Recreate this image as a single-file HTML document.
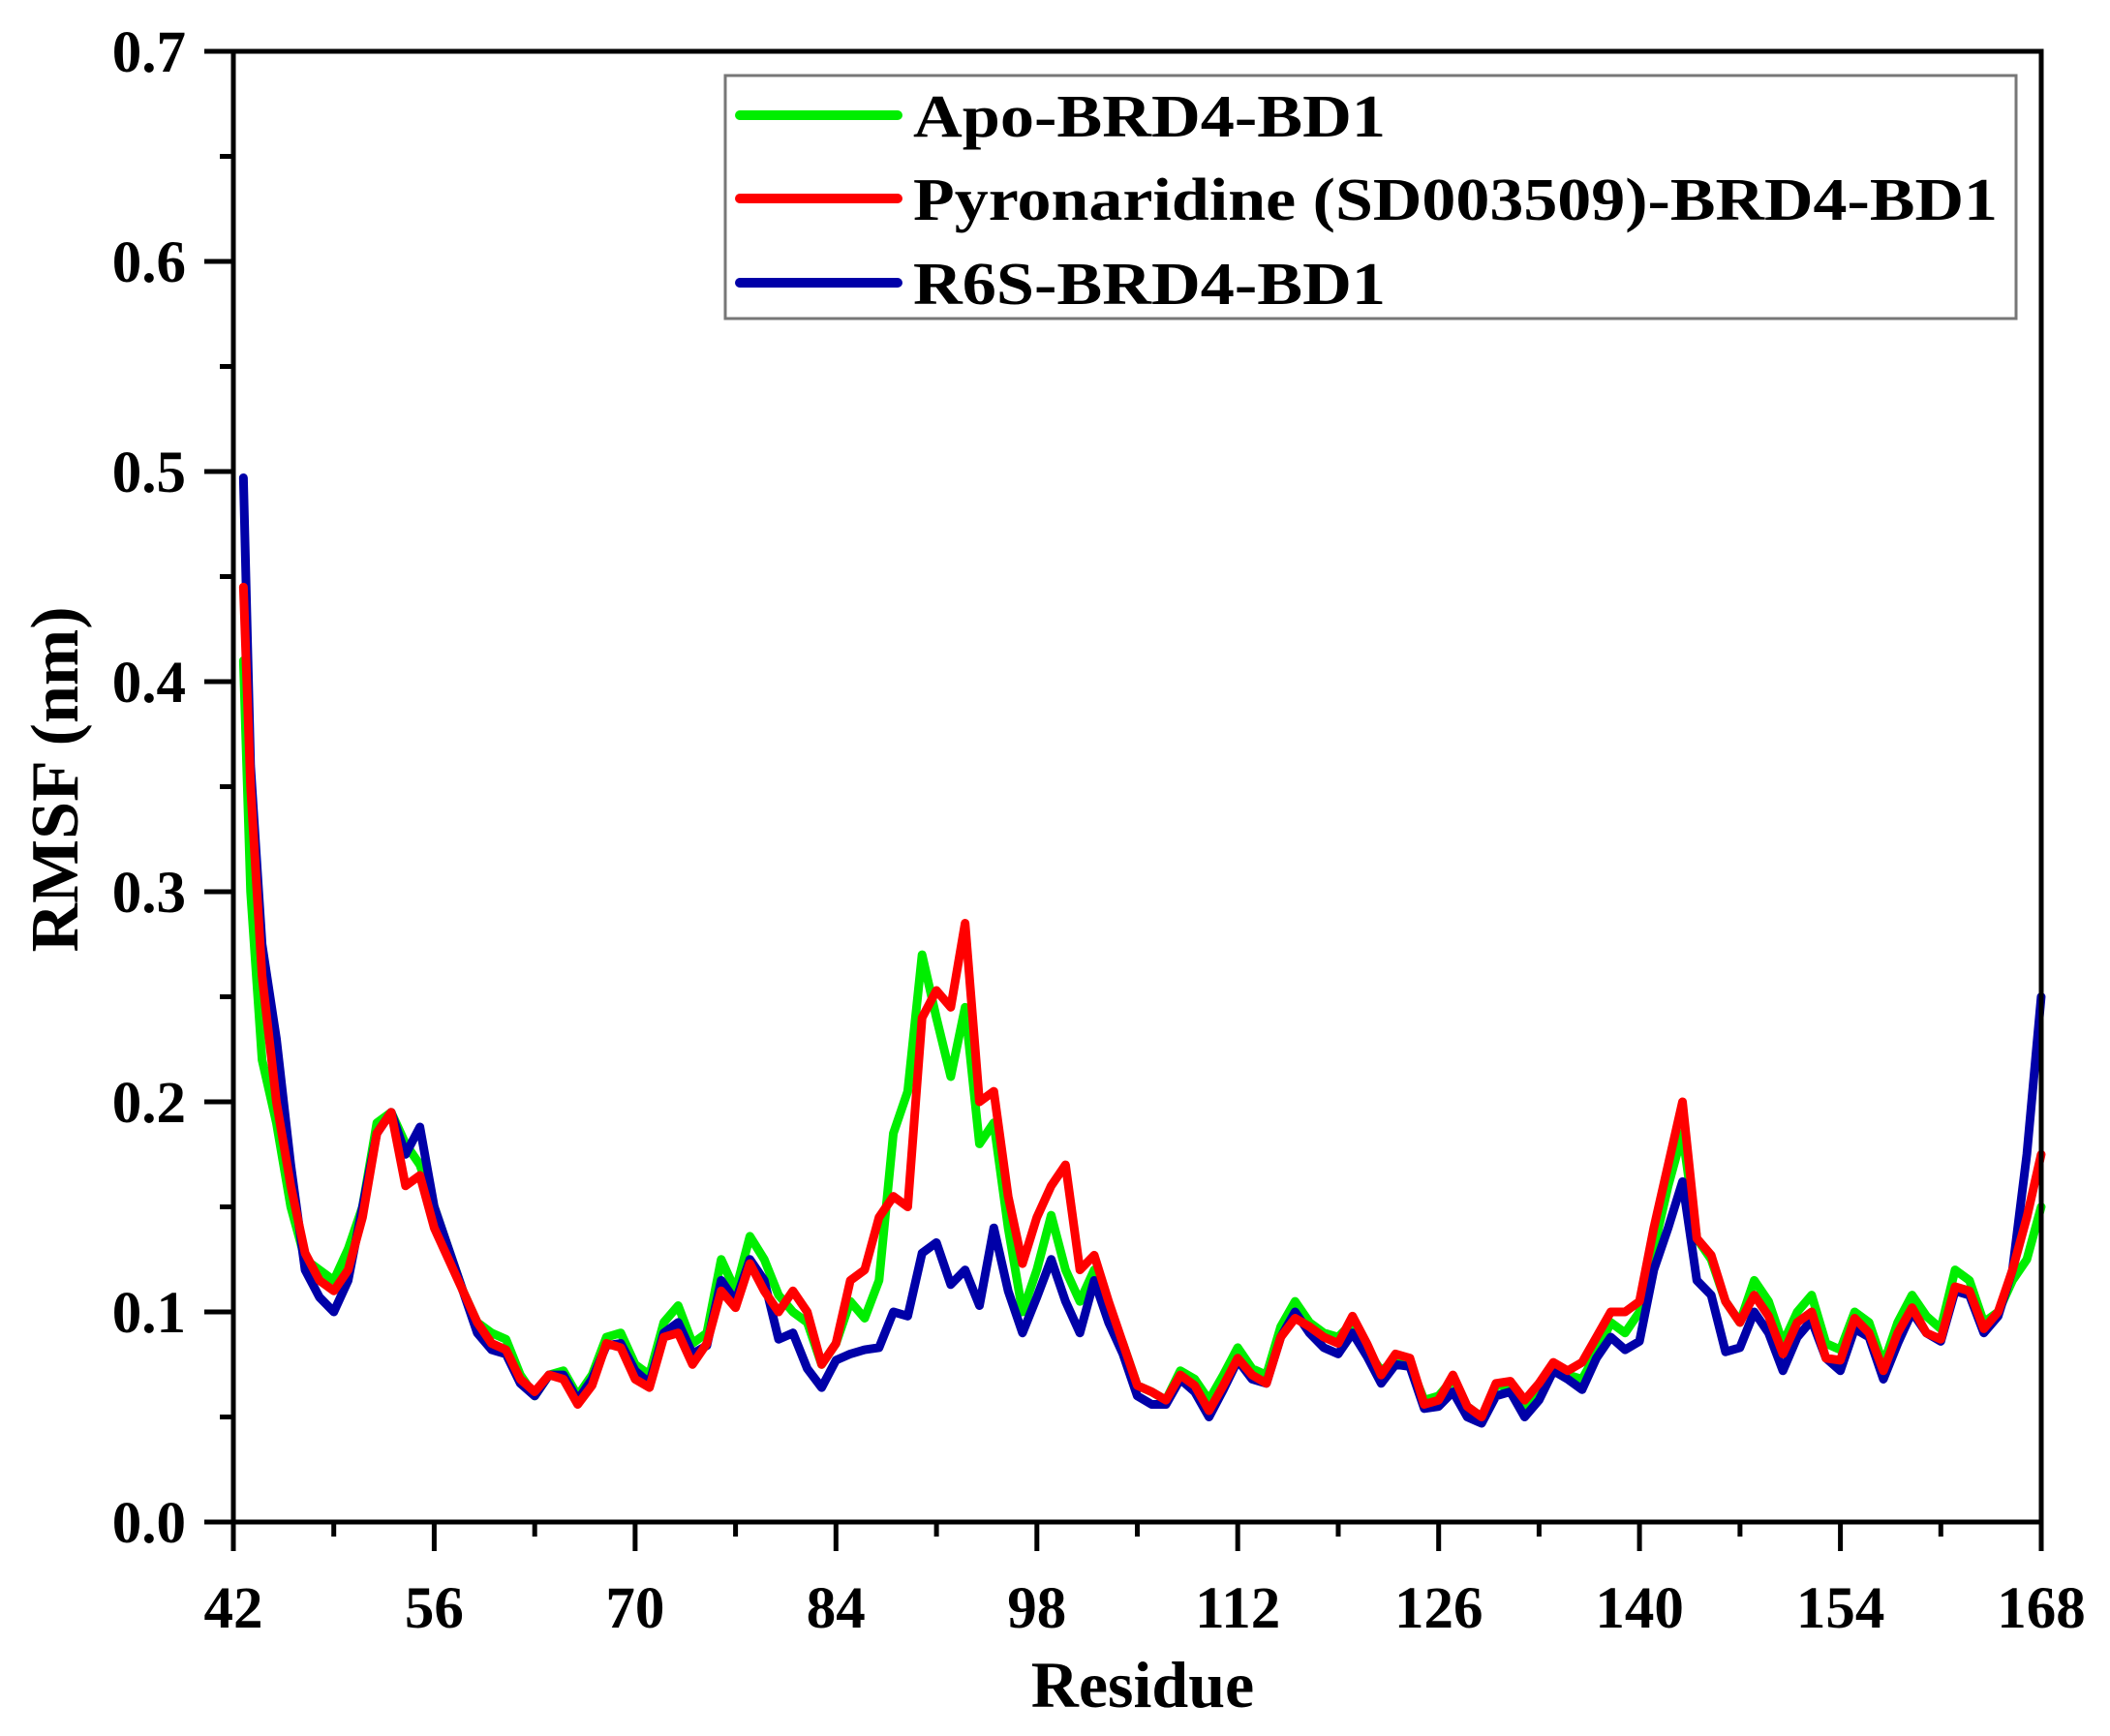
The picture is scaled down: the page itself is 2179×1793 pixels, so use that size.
<!DOCTYPE html>
<html><head><meta charset="utf-8"><style>
html,body{margin:0;padding:0;background:#fff}
svg{display:block}
text{font-family:"Liberation Serif",serif;font-weight:bold;fill:#000}
</style></head><body>
<svg width="2179" height="1793" viewBox="0 0 2179 1793" xmlns="http://www.w3.org/2000/svg">
<rect width="2179" height="1793" fill="#fff"/>
<g transform="translate(241,1572) scale(14.817,-2170)" fill="none" stroke-linejoin="round" stroke-linecap="round">
<polyline vector-effect="non-scaling-stroke" stroke="#00ee00" stroke-width="9" points="0.7,0.41 1.2,0.30 2,0.22 3,0.19 4,0.15 5,0.125 6,0.12 7,0.115 8,0.13 9,0.15 10,0.19 11,0.195 12,0.18 13,0.17 14,0.15 15,0.13 16,0.11 17,0.095 18,0.09 19,0.087 20,0.07 21,0.06 22,0.07 23,0.072 24,0.06 25,0.07 26,0.088 27,0.09 28,0.075 29,0.07 30,0.095 31,0.103 32,0.085 33,0.09 34,0.125 35,0.11 36,0.136 37,0.125 38,0.108 39,0.1 40,0.095 41,0.075 42,0.085 43,0.105 44,0.097 45,0.115 46,0.185 47,0.205 48,0.27 49,0.24 50,0.212 51,0.245 52,0.18 53,0.19 54,0.14 55,0.1 56,0.12 57,0.146 58,0.12 59,0.105 60,0.12 61,0.1 62,0.085 63,0.065 64,0.062 65,0.058 66,0.072 67,0.068 68,0.058 69,0.07 70,0.083 71,0.073 72,0.07 73,0.093 74,0.105 75,0.095 76,0.09 77,0.088 78,0.095 79,0.082 80,0.072 81,0.077 82,0.075 83,0.058 84,0.06 85,0.068 86,0.055 87,0.05 88,0.065 89,0.065 90,0.055 91,0.065 92,0.073 93,0.07 94,0.068 95,0.08 96,0.095 97,0.09 98,0.1 99,0.13 100,0.16 101,0.185 102,0.135 103,0.125 104,0.105 105,0.095 106,0.115 107,0.105 108,0.085 109,0.1 110,0.108 111,0.085 112,0.082 113,0.1 114,0.095 115,0.075 116,0.095 117,0.108 118,0.098 119,0.092 120,0.12 121,0.115 122,0.095 123,0.1 124,0.115 125,0.125 126,0.15"/>
<polyline vector-effect="non-scaling-stroke" stroke="#0000a8" stroke-width="9" points="0.7,0.497 1.2,0.36 2,0.275 3,0.23 4,0.17 5,0.12 6,0.107 7,0.1 8,0.115 9,0.15 10,0.185 11,0.195 12,0.175 13,0.188 14,0.15 15,0.13 16,0.11 17,0.09 18,0.082 19,0.08 20,0.066 21,0.06 22,0.07 23,0.07 24,0.058 25,0.068 26,0.084 27,0.085 28,0.072 29,0.066 30,0.09 31,0.095 32,0.08 33,0.084 34,0.115 35,0.105 36,0.125 37,0.115 38,0.087 39,0.09 40,0.073 41,0.064 42,0.077 43,0.08 44,0.082 45,0.083 46,0.1 47,0.098 48,0.128 49,0.133 50,0.113 51,0.12 52,0.103 53,0.14 54,0.11 55,0.09 56,0.107 57,0.125 58,0.105 59,0.09 60,0.115 61,0.095 62,0.08 63,0.06 64,0.056 65,0.056 66,0.068 67,0.062 68,0.05 69,0.063 70,0.077 71,0.068 72,0.066 73,0.088 74,0.1 75,0.09 76,0.083 77,0.08 78,0.09 79,0.079 80,0.066 81,0.075 82,0.074 83,0.054 84,0.055 85,0.062 86,0.05 87,0.047 88,0.06 89,0.062 90,0.05 91,0.058 92,0.072 93,0.068 94,0.063 95,0.078 96,0.088 97,0.082 98,0.086 99,0.12 100,0.14 101,0.162 102,0.115 103,0.108 104,0.081 105,0.083 106,0.1 107,0.09 108,0.072 109,0.088 110,0.096 111,0.078 112,0.072 113,0.092 114,0.088 115,0.068 116,0.085 117,0.1 118,0.09 119,0.086 120,0.11 121,0.108 122,0.09 123,0.098 124,0.12 125,0.175 126,0.25"/>
<polyline vector-effect="non-scaling-stroke" stroke="#ff0000" stroke-width="9" points="0.7,0.445 1.2,0.35 2,0.26 3,0.2 4,0.16 5,0.128 6,0.115 7,0.11 8,0.12 9,0.145 10,0.185 11,0.195 12,0.16 13,0.165 14,0.14 15,0.125 16,0.11 17,0.095 18,0.085 19,0.082 20,0.068 21,0.062 22,0.07 23,0.068 24,0.056 25,0.065 26,0.085 27,0.083 28,0.068 29,0.064 30,0.088 31,0.09 32,0.075 33,0.085 34,0.11 35,0.102 36,0.123 37,0.11 38,0.1 39,0.11 40,0.1 41,0.075 42,0.085 43,0.115 44,0.12 45,0.145 46,0.155 47,0.15 48,0.24 49,0.253 50,0.245 51,0.285 52,0.2 53,0.205 54,0.155 55,0.123 56,0.145 57,0.16 58,0.17 59,0.12 60,0.127 61,0.105 62,0.085 63,0.065 64,0.062 65,0.058 66,0.07 67,0.065 68,0.053 69,0.065 70,0.078 71,0.07 72,0.066 73,0.088 74,0.097 75,0.093 76,0.088 77,0.085 78,0.098 79,0.085 80,0.07 81,0.08 82,0.078 83,0.056 84,0.058 85,0.07 86,0.055 87,0.05 88,0.066 89,0.067 90,0.058 91,0.066 92,0.076 93,0.072 94,0.076 95,0.088 96,0.1 97,0.1 98,0.105 99,0.14 100,0.17 101,0.2 102,0.135 103,0.127 104,0.105 105,0.095 106,0.108 107,0.098 108,0.08 109,0.095 110,0.1 111,0.078 112,0.077 113,0.097 114,0.09 115,0.072 116,0.09 117,0.102 118,0.09 119,0.087 120,0.112 121,0.11 122,0.092 123,0.1 124,0.12 125,0.145 126,0.175"/>
</g>
<g stroke="#000" stroke-width="5" fill="none">
<rect x="241" y="53" width="1867" height="1519"/>
<path d="M241,1572h-30 M241,1355h-30 M241,1138h-30 M241,921h-30 M241,704h-30 M241,487h-30 M241,270h-30 M241,53h-30
M241,1463.5h-14 M241,1246.5h-14 M241,1029.5h-14 M241,812.5h-14 M241,595.5h-14 M241,378.5h-14 M241,161.5h-14"/>
<path d="M241,1572v30 M448.4,1572v30 M655.9,1572v30 M863.3,1572v30 M1070.8,1572v30 M1278.2,1572v30 M1485.7,1572v30 M1693.1,1572v30 M1900.6,1572v30 M2108,1572v30
M344.7,1572v15 M552.2,1572v15 M759.6,1572v15 M967.1,1572v15 M1174.5,1572v15 M1382,1572v15 M1589.4,1572v15 M1796.9,1572v15 M2004.3,1572v15"/>
</g>
<g font-size="61" text-anchor="end">
<text x="192" y="1593">0.0</text>
<text x="192" y="1376">0.1</text>
<text x="192" y="1159">0.2</text>
<text x="192" y="942">0.3</text>
<text x="192" y="725">0.4</text>
<text x="192" y="508">0.5</text>
<text x="192" y="291">0.6</text>
<text x="192" y="74">0.7</text>
</g>
<g font-size="61" text-anchor="middle">
<text x="241" y="1681">42</text>
<text x="448.4" y="1681">56</text>
<text x="655.9" y="1681">70</text>
<text x="863.3" y="1681">84</text>
<text x="1070.8" y="1681">98</text>
<text x="1278.2" y="1681">112</text>
<text x="1485.7" y="1681">126</text>
<text x="1693.1" y="1681">140</text>
<text x="1900.6" y="1681">154</text>
<text x="2108" y="1681">168</text>
</g>
<text x="1180" y="1763" font-size="68" text-anchor="middle">Residue</text>
<text transform="translate(80,805) rotate(-90)" font-size="70" text-anchor="middle">RMSF (nm)</text>
<rect x="749" y="78" width="1333" height="251" fill="#fff" stroke="#777" stroke-width="3"/>
<g stroke-width="10" stroke-linecap="round">
<line x1="764" y1="119" x2="927" y2="119" stroke="#00ee00"/>
<line x1="764" y1="205" x2="927" y2="205" stroke="#ff0000"/>
<line x1="764" y1="292" x2="927" y2="292" stroke="#0000a8"/>
</g>
<g font-size="62">
<text x="943" y="141" textLength="488" lengthAdjust="spacingAndGlyphs">Apo-BRD4-BD1</text>
<text x="943" y="227" textLength="1120" lengthAdjust="spacingAndGlyphs">Pyronaridine (SD003509)-BRD4-BD1</text>
<text x="943" y="314" textLength="488" lengthAdjust="spacingAndGlyphs">R6S-BRD4-BD1</text>
</g>
</svg>
</body></html>
